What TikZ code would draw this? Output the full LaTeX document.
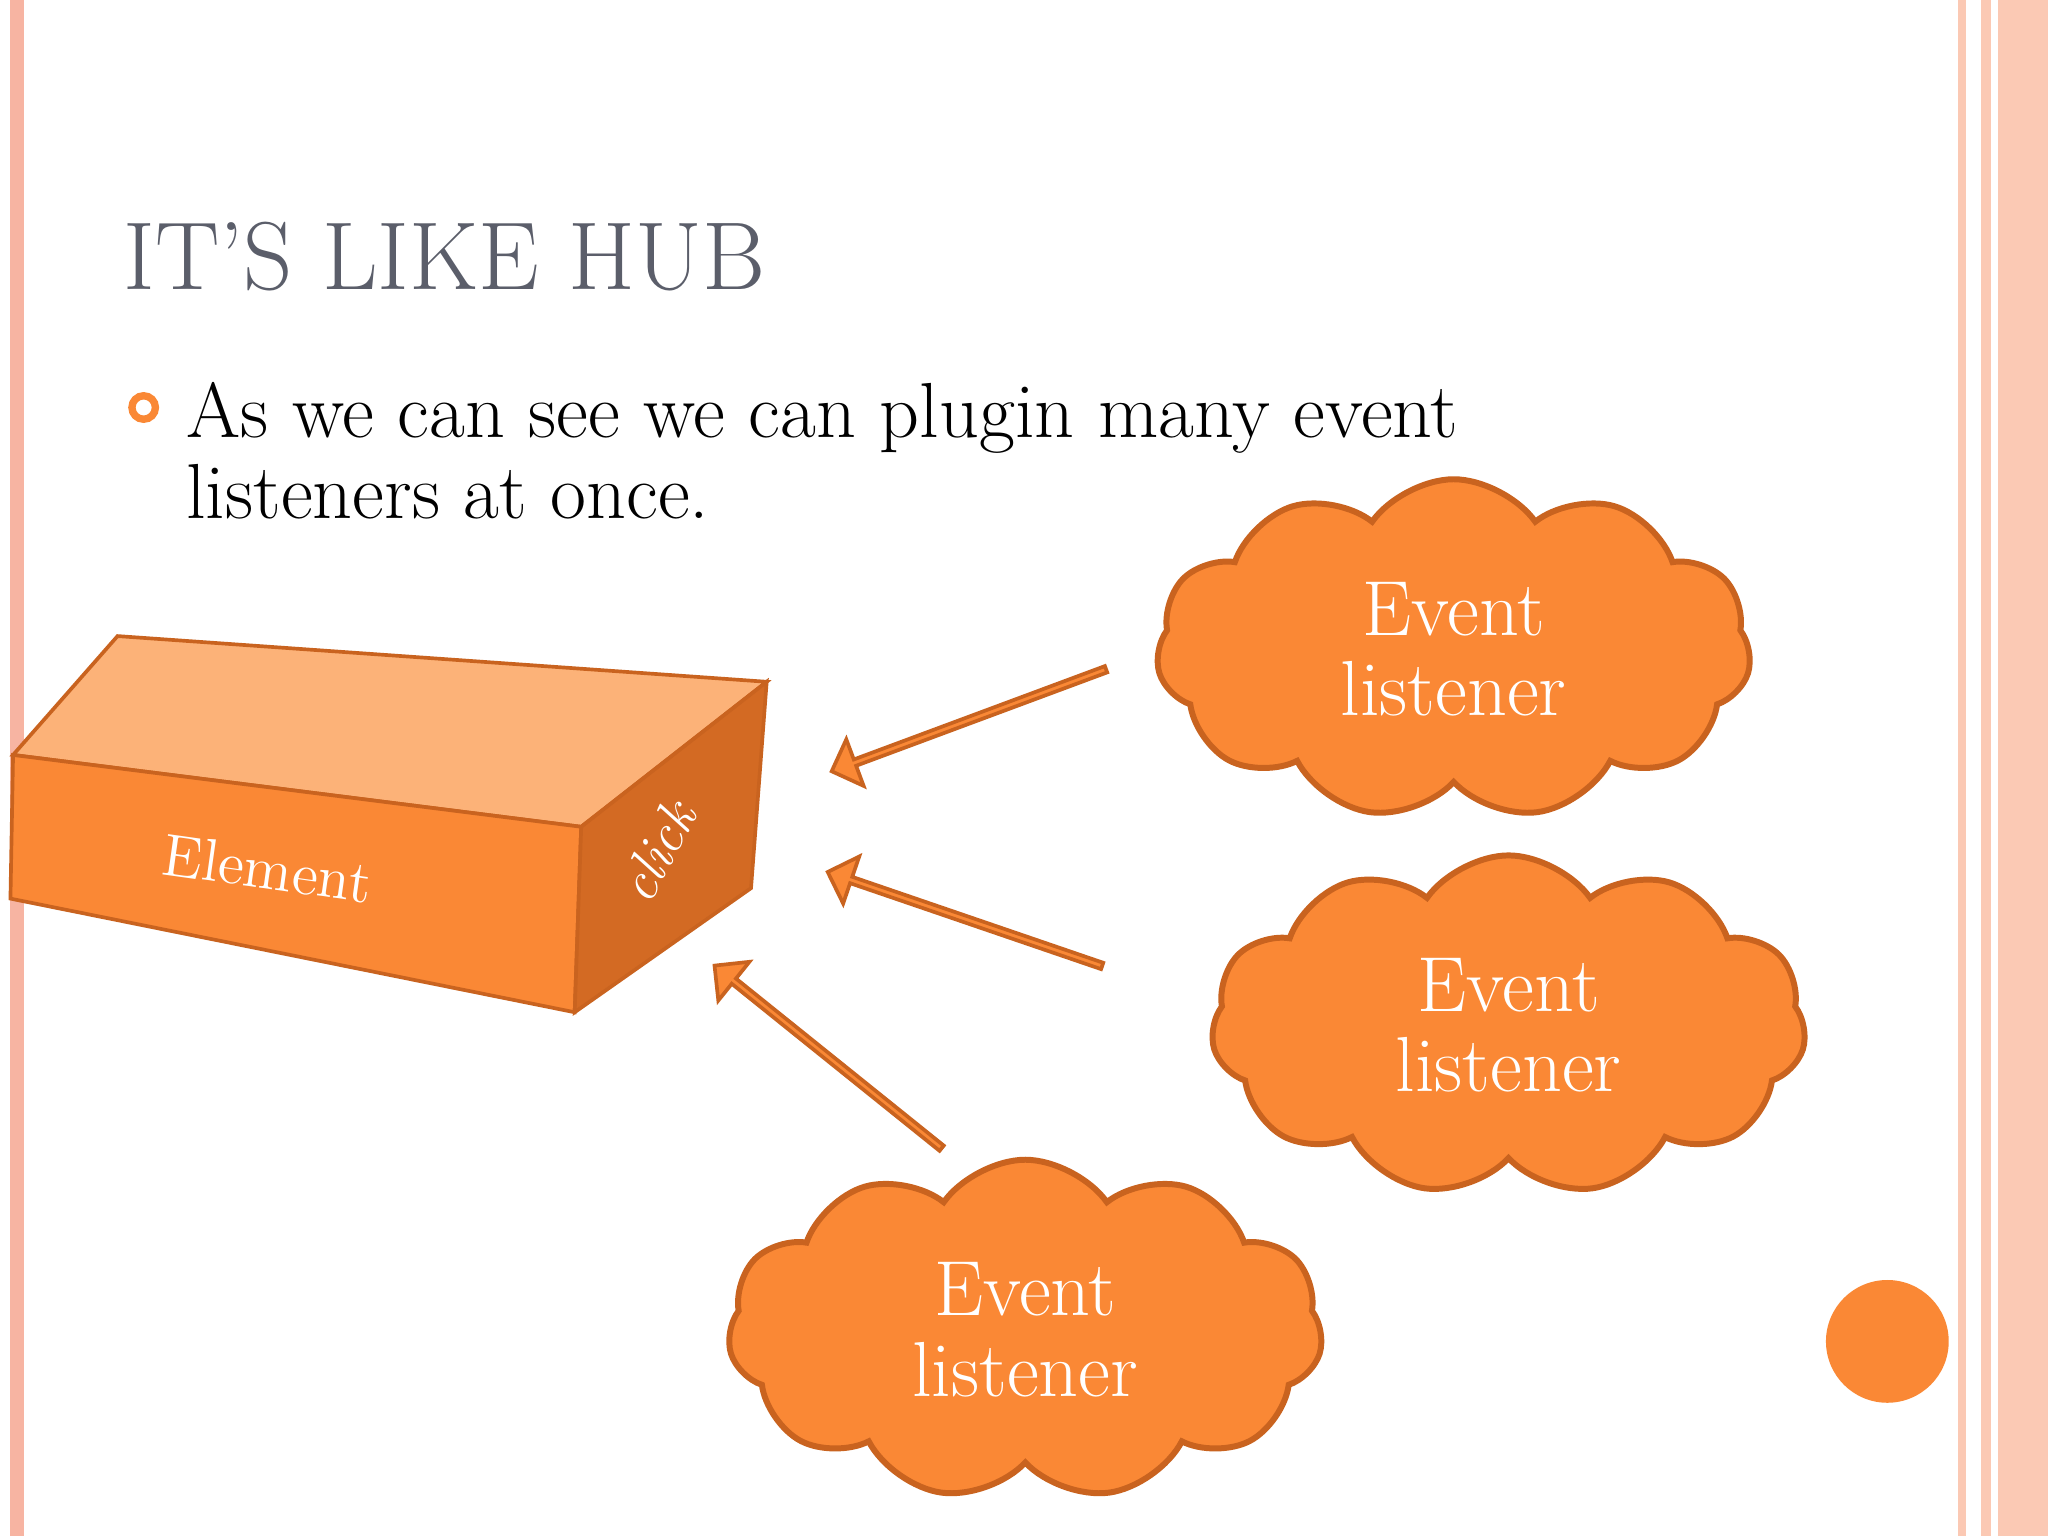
\documentclass[tikz,border=0pt]{standalone}
\usetikzlibrary{shapes.symbols,shapes.arrows}
\definecolor{org}{HTML}{FA8835}
\definecolor{orgd}{HTML}{C9631F}
\definecolor{pinkb}{HTML}{F7B4A2}
\definecolor{peach}{HTML}{FBC9B4}
\definecolor{ttl}{HTML}{5B5E6A}
\begin{document}
\begin{tikzpicture}[x=0.01cm,y=0.01cm,
  cl/.style={cloud,cloud puffs=11,cloud puff arc=110,aspect=1.75,fill=org,draw=orgd,line width=1.3pt,minimum width=4.55cm,minimum height=2.6cm,inner sep=0pt,text=white,font=\fontsize{17}{17.5}\selectfont,align=center},
  arr/.style={single arrow,fill=org,draw=orgd,line width=0.8pt,minimum width=0.38cm,single arrow head extend=0.09cm,inner sep=0pt,single arrow head indent=0pt}]
\useasboundingbox (0,0) rectangle (1568,-1176);
\fill[white] (0,0) rectangle (1568,-1176);
\fill[pinkb] (8,0) rectangle (18,-1176);
\fill[peach] (1499,0) rectangle (1505,-1176);
\fill[peach] (1517,0) rectangle (1524,-1176);
\fill[peach] (1530,0) rectangle (1568,-1176);
\node[anchor=base west,text=ttl,font=\fontsize{21}{25}\selectfont,inner sep=0] (title) at (94,-222) {IT'S LIKE HUB};
\draw[org,line width=1.6pt] (110,-312) circle (9);
\node[anchor=base west,font=\fontsize{17}{19}\selectfont,inner sep=0] (l1) at (142,-335) {As we can see we can plugin many event};
\node[anchor=base west,font=\fontsize{17}{19}\selectfont,inner sep=0] (l2) at (142,-397) {listeners at once.};
% box
\filldraw[fill=org!60!white!90!orange,draw=orgd,line width=0.8pt] (90,-487) -- (587,-522) -- (445,-633) -- (10,-578) -- cycle;
\filldraw[fill=org,draw=orgd,line width=0.8pt] (10,-578) -- (445,-633) -- (440,-775) -- (8,-688) -- cycle;
\filldraw[fill=orgd!80!org,draw=orgd,line width=0.8pt] (587,-522) -- (575,-680) -- (440,-775) -- (445,-633) -- cycle;
\node[text=white,rotate=-8,font=\fontsize{13}{15}\selectfont,inner sep=0] (el) at (205,-665) {Element};
\node[text=white,rotate=62,font=\itshape\fontsize{12}{14}\selectfont,inner sep=0] (ck) at (503,-652) {click};
% clouds
\node[cl] (c1) at (1113,-497) {Event\\listener};
\node[cl] (c2) at (1155,-785) {Event\\listener};
\node[cl] (c3) at (785,-1018) {Event\\listener};
% arrows
\node[arr,rotate=200.4,minimum height=2.24cm] (a1) at (743,-551) {};
\node[arr,rotate=161.1,minimum height=2.22cm] (a2) at (740,-704) {};
\node[arr,rotate=141.2,minimum height=2.23cm] (a3) at (635,-810) {};
\fill[org] (1445,-1027) circle (47);
\end{tikzpicture}
\end{document}
